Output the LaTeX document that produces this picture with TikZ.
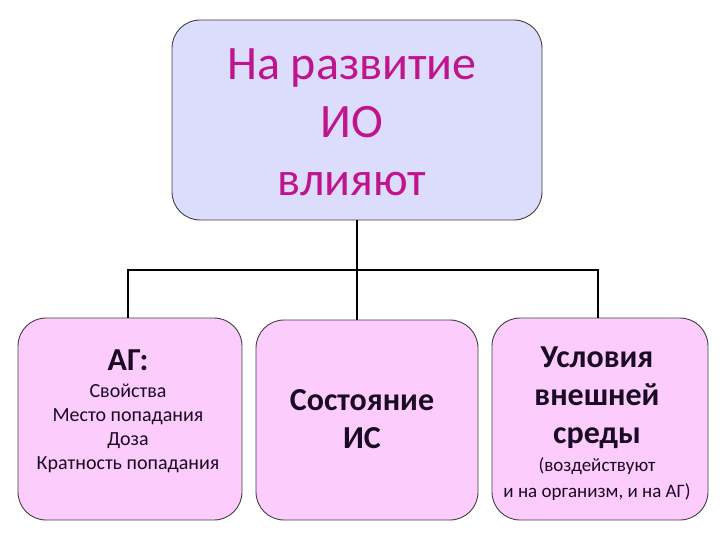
\documentclass[tikz,border=0pt]{standalone}
\usepackage{fontspec}
\setmainfont{Carlito}
\definecolor{topfill}{HTML}{DCDCFC}
\definecolor{botfill}{HTML}{FCCCFC}
\definecolor{mag}{HTML}{C0148C}
\definecolor{dk}{HTML}{1A0A24}
\begin{document}
\begin{tikzpicture}[x=1pt,y=-1pt,
  box/.style={draw=black!75,line width=0.9pt,rounded corners=28pt},
  conn/.style={draw=black,line width=2pt},
  big/.style={font=\fontsize{48}{58}\selectfont,text=mag,align=center},
  mid/.style={font=\fontsize{32}{38}\selectfont\bfseries,text=dk,align=center},
  sm/.style={font=\fontsize{20}{24}\selectfont,text=dk,align=center}]
\useasboundingbox (0,0) rectangle (720,540);
\node[box,fill=topfill,minimum width=370pt,minimum height=200pt] (top) at (357,120) {};
\node[box,fill=botfill,minimum width=224pt,minimum height=202pt] (l) at (130,419) {};
\node[box,fill=botfill,minimum width=222pt,minimum height=200pt] (m) at (367,420) {};
\node[box,fill=botfill,minimum width=216pt,minimum height=202pt] (r) at (600,419) {};
\coordinate (j) at (357,270);
\draw[conn] (top.south) -- (j);
\draw[conn] (l.north -| 128,0) |- (j) -| (r.north -| 598,0);
\draw[conn] (j) -- (m.north -| j);
\node[big] (tt) at (352,122) {На развитие\\ИО\\влияют};
\node[mid] (lt) at (128,360) {АГ:};
\node[sm] (ls) at (128,428) {Свойства\\Место попадания\\Доза\\Кратность попадания};
\node[mid] (mt) at (362,419) {Состояние\\ИС};
\node[mid] (rt) at (597,398) {Условия\\внешней\\среды};
\node[sm,font=\fontsize{19}{26}\selectfont] (rs) at (597,479) {(воздействуют\\и на организм, и на АГ)};
\end{tikzpicture}
\end{document}
